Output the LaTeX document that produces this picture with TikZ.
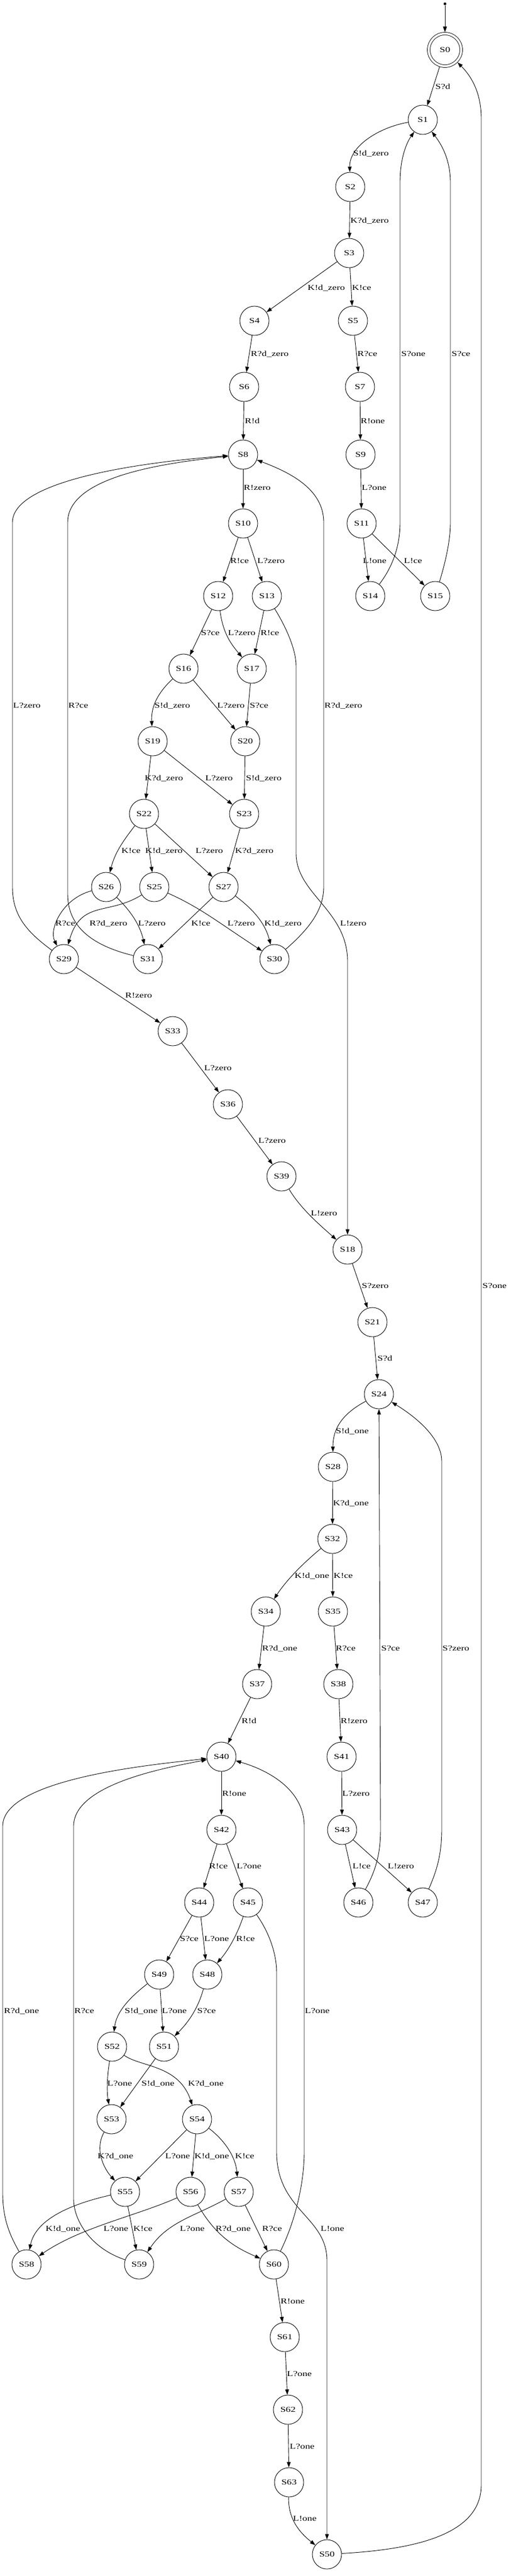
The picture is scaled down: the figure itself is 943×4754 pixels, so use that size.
\documentclass[tikz,border=0pt]{standalone}
\usepackage{fontspec}
\setmainfont{Liberation Serif}[FakeStretch=1.3]
\usetikzlibrary{arrows.meta}

\tikzset{
  stnode/.style={draw, circle, minimum size=54pt, inner sep=0pt},
  accnode/.style={draw, circle, double, double distance=4pt, minimum size=60pt, inner sep=0pt, outer sep=2.8pt},
  elabel/.style={anchor=base west, inner sep=0pt, yshift=-5pt},
}

\begin{document}
\begin{tikzpicture}[x=1pt, y=-1pt, line width=0.9pt, >={Triangle[length=10pt,width=7pt]}, font=\fontsize{14}{16}\selectfont]
\useasboundingbox (0,0) rectangle (943,4754);

\node[fill, circle, inner sep=0pt, minimum size=5pt] (init) at (822,7) {};
\node[accnode] (S0) at (822,92) {S0};
\node[stnode] (S1) at (781,221) {S1};
\node[stnode] (S2) at (647,345) {S2};
\node[stnode] (S3) at (645,467) {S3};
\node[stnode] (S4) at (470,592) {S4};
\node[stnode] (S5) at (652,592) {S5};
\node[stnode] (S6) at (451,714) {S6};
\node[stnode] (S7) at (665,714) {S7};
\node[stnode] (S8) at (449,839) {S8};
\node[stnode] (S9) at (666,839) {S9};
\node[stnode] (S10) at (449,966) {S10};
\node[stnode] (S11) at (668,966) {S11};
\node[stnode] (S12) at (403,1100) {S12};
\node[stnode] (S13) at (493,1100) {S13};
\node[stnode] (S14) at (684,1100) {S14};
\node[stnode] (S15) at (804,1100) {S15};
\node[stnode] (S16) at (339,1234) {S16};
\node[stnode] (S17) at (465,1234) {S17};
\node[stnode] (S19) at (282,1368) {S19};
\node[stnode] (S20) at (453,1368) {S20};
\node[stnode] (S22) at (266,1502) {S22};
\node[stnode] (S23) at (451,1502) {S23};
\node[stnode] (S26) at (196,1637) {S26};
\node[stnode] (S25) at (285,1637) {S25};
\node[stnode] (S27) at (413,1637) {S27};
\node[stnode] (S29) at (118,1770) {S29};
\node[stnode] (S31) at (273,1770) {S31};
\node[stnode] (S30) at (507,1770) {S30};
\node[stnode] (S33) at (319,1903) {S33};
\node[stnode] (S36) at (421,2038) {S36};
\node[stnode] (S39) at (520,2171) {S39};
\node[stnode] (S18) at (642,2306) {S18};
\node[stnode] (S21) at (688,2440) {S21};
\node[stnode] (S24) at (700,2573) {S24};
\node[stnode] (S28) at (615,2707) {S28};
\node[stnode] (S32) at (614,2840) {S32};
\node[stnode] (S34) at (491,2974) {S34};
\node[stnode] (S35) at (615,2974) {S35};
\node[stnode] (S37) at (475,3108) {S37};
\node[stnode] (S38) at (625,3108) {S38};
\node[stnode] (S40) at (409,3242) {S40};
\node[stnode] (S41) at (631,3242) {S41};
\node[stnode] (S42) at (409,3377) {S42};
\node[stnode] (S43) at (632,3377) {S43};
\node[stnode] (S44) at (368,3511) {S44};
\node[stnode] (S45) at (458,3511) {S45};
\node[stnode] (S46) at (662,3511) {S46};
\node[stnode] (S47) at (781,3511) {S47};
\node[stnode] (S49) at (294,3644) {S49};
\node[stnode] (S48) at (383,3644) {S48};
\node[stnode] (S52) at (207,3777) {S52};
\node[stnode] (S51) at (303,3777) {S51};
\node[stnode] (S53) at (206,3911) {S53};
\node[stnode] (S54) at (364,3911) {S54};
\node[stnode] (S55) at (231,4045) {S55};
\node[stnode] (S56) at (352,4045) {S56};
\node[stnode] (S57) at (441,4045) {S57};
\node[stnode] (S58) at (49,4179) {S58};
\node[stnode] (S59) at (257,4179) {S59};
\node[stnode] (S60) at (506,4179) {S60};
\node[stnode] (S61) at (526,4313) {S61};
\node[stnode] (S62) at (532,4447) {S62};
\node[stnode] (S63) at (534,4581) {S63};
\node[stnode] (S50) at (604,4714) {S50};

\draw[->] (init) -- (S0);
\draw[->] (S0) -- (S1) node[elabel] at (804,159) {S?d};
\draw[->] (S1) .. controls (700,235) and (645,270) .. (S2) node[elabel] at (652,282) {S!d\_zero};
\draw[->] (S2) -- (S3) node[elabel] at (647,406) {K?d\_zero};
\draw[->] (S3) -- (S4) node[elabel] at (568,530) {K!d\_zero};
\draw[->] (S3) -- (S5) node[elabel] at (650,530) {K!ce};
\draw[->] (S4) -- (S6) node[elabel] at (463,652) {R?d\_zero};
\draw[->] (S5) -- (S7) node[elabel] at (660,652) {R?ce};
\draw[->] (S6) -- (S8) node[elabel] at (452,776) {R!d};
\draw[->] (S7) -- (S9) node[elabel] at (666,776) {R!one};
\draw[->] (S9) -- (S11) node[elabel] at (668,899) {L?one};
\draw[->] (S11) -- (S14) node[elabel] at (670,1034) {L!one};
\draw[->] (S11) -- (S15) node[elabel] at (746,1034) {L!ce};
\draw[->] (S14) .. controls (730,1040) and (739,1000) .. (739,964) -- (739,337) .. controls (739,290) and (752,262) .. (S1) node[elabel] at (741,652) {S?one};
\draw[->] (S15) .. controls (822,1040) and (832,1000) .. (832,964) -- (832,337) .. controls (832,290) and (812,262) .. (S1) node[elabel] at (834,652) {S?ce};
\draw[->] (S50) .. controls (760,4705) and (889,4680) .. (889,4586) -- (889,219) .. controls (889,170) and (870,140) .. (S0) node[elabel] at (891,2372) {S?one};

\draw[->] (S8) -- (S10) node[elabel] at (450,899) {R!zero};
\draw[->] (S10) -- (S12) node[elabel] at (425,1034) {R!ce};
\draw[->] (S10) -- (S13) node[elabel] at (475,1034) {L?zero};
\draw[->] (S12) -- (S16) node[elabel] at (371,1167) {S?ce};
\draw[->] (S12) .. controls (412,1170) and (428,1190) .. (S17) node[elabel] at (421,1167) {L?zero};
\draw[->] (S13) -- (S17) node[elabel] at (481,1167) {R!ce};
\draw[->] (S13) .. controls (530,1160) and (547,1200) .. (547,1229) -- (547,1575) .. controls (547,1650) and (642,1680) .. (642,1774) -- (S18) node[elabel] at (628,1703) {L!zero};
\draw[->] (S16) .. controls (290,1280) and (279,1305) .. (S19) node[elabel] at (285,1301) {S!d\_zero};
\draw[->] (S16) -- (S20) node[elabel] at (401,1301) {L?zero};
\draw[->] (S17) -- (S20) node[elabel] at (461,1301) {S?ce};
\draw[->] (S19) -- (S22) node[elabel] at (267,1435) {K?d\_zero};
\draw[->] (S19) -- (S23) node[elabel] at (379,1435) {L?zero};
\draw[->] (S20) -- (S23) node[elabel] at (454,1435) {S!d\_zero};
\draw[->] (S22) .. controls (225,1555) and (212,1575) .. (S26) node[elabel] at (224,1569) {K!ce};
\draw[->] (S22) -- (S25) node[elabel] at (268,1569) {K!d\_zero};
\draw[->] (S22) -- (S27) node[elabel] at (361,1569) {L?zero};
\draw[->] (S23) -- (S27) node[elabel] at (434,1569) {K?d\_zero};
\draw[->] (S26) .. controls (115,1658) and (90,1715) .. (S29) node[elabel] at (102,1703) {R?ce};
\draw[->] (S25) .. controls (200,1690) and (150,1660) .. (S29) node[elabel] at (165,1703) {R?d\_zero};
\draw[->] (S26) .. controls (240,1680) and (258,1705) .. (S31) node[elabel] at (255,1703) {L?zero};
\draw[->] (S25) .. controls (370,1675) and (400,1700) .. (S30) node[elabel] at (420,1703) {L?zero};
\draw[->] (S27) -- (S31) node[elabel] at (353,1703) {K!ce};
\draw[->] (S27) .. controls (470,1680) and (490,1705) .. (S30) node[elabel] at (488,1703) {K!d\_zero};
\draw[->] (S29) .. controls (50,1720) and (23,1690) .. (23,1637) -- (23,964) .. controls (23,880) and (300,850) .. (S8) node[elabel] at (24,1301) {L?zero};
\draw[->] (S31) .. controls (170,1745) and (125,1710) .. (125,1650) -- (125,964) .. controls (125,880) and (300,855) .. (S8) node[elabel] at (126,1301) {R?ce};
\draw[->] (S30) .. controls (570,1715) and (598,1680) .. (598,1637) -- (598,964) .. controls (598,900) and (530,870) .. (S8) node[elabel] at (599,1301) {R?d\_zero};

\draw[->] (S29) -- (S33) node[elabel] at (231,1836) {R!zero};
\draw[->] (S33) -- (S36) node[elabel] at (377,1970) {L?zero};
\draw[->] (S36) -- (S39) node[elabel] at (477,2104) {L?zero};
\draw[->] (S39) .. controls (555,2230) and (590,2260) .. (S18) node[elabel] at (574,2238) {L!zero};
\draw[->] (S18) -- (S21) node[elabel] at (668,2372) {S?zero};
\draw[->] (S21) -- (S24) node[elabel] at (697,2506) {S?d};
\draw[->] (S24) .. controls (640,2605) and (615,2630) .. (S28) node[elabel] at (620,2640) {S!d\_one};
\draw[->] (S28) -- (S32) node[elabel] at (615,2773) {K?d\_one};
\draw[->] (S32) .. controls (560,2885) and (530,2915) .. (S34) node[elabel] at (544,2907) {K!d\_one};
\draw[->] (S32) -- (S35) node[elabel] at (616,2907) {K!ce};
\draw[->] (S34) -- (S37) node[elabel] at (484,3041) {R?d\_one};
\draw[->] (S35) -- (S38) node[elabel] at (620,3041) {R?ce};
\draw[->] (S46) .. controls (695,3450) and (703,3420) .. (703,3375) -- (S24) node[elabel] at (704,3041) {S?ce};
\draw[->] (S47) .. controls (808,3450) and (816,3420) .. (816,3375) -- (816,2697) .. controls (816,2650) and (760,2610) .. (S24) node[elabel] at (817,3041) {S?zero};

\draw[->] (S37) -- (S40) node[elabel] at (446,3175) {R!d};
\draw[->] (S38) -- (S41) node[elabel] at (629,3175) {R!zero};
\draw[->] (S40) -- (S42) node[elabel] at (410,3309) {R!one};
\draw[->] (S41) -- (S43) node[elabel] at (632,3309) {L?zero};
\draw[->] (S42) -- (S44) node[elabel] at (386,3443) {R!ce};
\draw[->] (S42) -- (S45) node[elabel] at (437,3443) {L?one};
\draw[->] (S43) -- (S46) node[elabel] at (651,3443) {L!ce};
\draw[->] (S43) -- (S47) node[elabel] at (716,3443) {L!zero};
\draw[->] (S44) -- (S49) node[elabel] at (332,3577) {S?ce};
\draw[->] (S44) -- (S48) node[elabel] at (377,3577) {L?one};
\draw[->] (S45) .. controls (440,3565) and (425,3595) .. (S48) node[elabel] at (436,3577) {R!ce};
\draw[->] (S45) .. controls (500,3570) and (511,3610) .. (511,3640) -- (511,3971) .. controls (511,4080) and (604,4090) .. (604,4172) -- (S50) node[elabel] at (592,4112) {L!one};
\draw[->] (S49) .. controls (235,3690) and (215,3715) .. (S52) node[elabel] at (230,3710) {S!d\_one};
\draw[->] (S49) -- (S51) node[elabel] at (299,3710) {L?one};
\draw[->] (S48) .. controls (365,3710) and (345,3735) .. (S51) node[elabel] at (364,3710) {S?ce};
\draw[->] (S52) .. controls (198,3830) and (197,3860) .. (S53) node[elabel] at (198,3844) {L?one};
\draw[->] (S51) -- (S53) node[elabel] at (261,3844) {S!d\_one};
\draw[->] (S52) .. controls (260,3815) and (330,3810) .. (S54) node[elabel] at (347,3844) {K?d\_one};
\draw[->] (S53) .. controls (175,3965) and (190,4000) .. (S55) node[elabel] at (180,3978) {K?d\_one};
\draw[->] (S54) -- (S55) node[elabel] at (305,3978) {L?one};
\draw[->] (S54) -- (S56) node[elabel] at (359,3978) {K!d\_one};
\draw[->] (S54) .. controls (415,3950) and (435,3980) .. (S57) node[elabel] at (434,3978) {K!ce};
\draw[->] (S55) .. controls (120,4070) and (65,4100) .. (S58) node[elabel] at (84,4112) {K!d\_one};
\draw[->] (S55) -- (S59) node[elabel] at (246,4112) {K!ce};
\draw[->] (S56) .. controls (250,4090) and (150,4110) .. (S58) node[elabel] at (191,4112) {L?one};
\draw[->] (S56) .. controls (400,4130) and (440,4150) .. (S60) node[elabel] at (398,4112) {R?d\_one};
\draw[->] (S57) .. controls (360,4090) and (310,4100) .. (S59) node[elabel] at (332,4112) {L?one};
\draw[->] (S57) -- (S60) node[elabel] at (484,4112) {R?ce};
\draw[->] (S58) .. controls (15,4120) and (5,4090) .. (5,4047) -- (5,3370) .. controls (5,3280) and (300,3255) .. (S40) node[elabel] at (7,3710) {R?d\_one};
\draw[->] (S59) .. controls (170,4150) and (136,4100) .. (136,4058) -- (136,3370) .. controls (136,3290) and (320,3260) .. (S40) node[elabel] at (137,3710) {R?ce};
\draw[->] (S60) .. controls (545,4100) and (562,4030) .. (562,3971) -- (562,3370) .. controls (562,3300) and (490,3265) .. (S40) node[elabel] at (563,3710) {L?one};
\draw[->] (S60) -- (S61) node[elabel] at (518,4246) {R!one};
\draw[->] (S61) -- (S62) node[elabel] at (530,4380) {L?one};
\draw[->] (S62) -- (S63) node[elabel] at (535,4514) {L?one};
\draw[->] (S63) .. controls (532,4650) and (555,4675) .. (S50) node[elabel] at (541,4647) {L!one};

\end{tikzpicture}
\end{document}
